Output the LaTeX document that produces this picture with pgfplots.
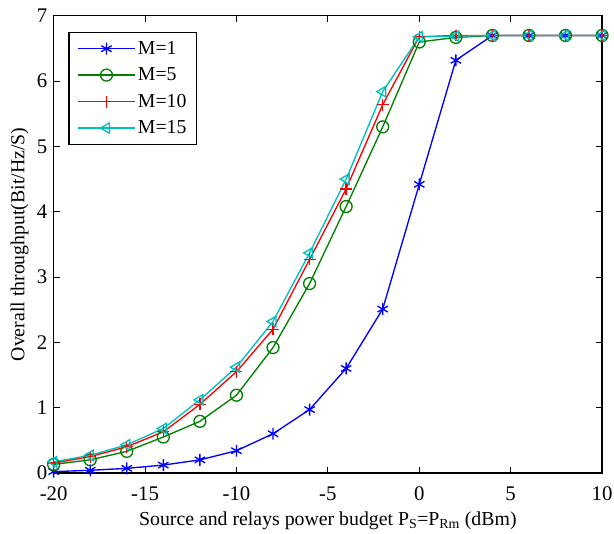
\documentclass[border=0pt]{standalone}
\usepackage{pgfplots}
\pgfplotsset{compat=1.18}
\usepackage{fontspec}
\setmainfont{Liberation Serif}
\definecolor{mgreen}{rgb}{0,0.5,0}
\definecolor{mcyan}{rgb}{0,0.75,0.75}
\begin{document}
\begin{tikzpicture}
\begin{axis}[
  scale only axis,
  width=552bp, height=460bp,
  xmin=-20, xmax=10, ymin=0, ymax=7,
  xtick={-20,-15,...,10}, ytick={0,1,...,7},
  xticklabels={-20,-15,-10,-5,0,5,10},
  tick align=inside,
  major tick length=6bp,
  axis line style={line width=1.2pt},
  every tick/.style={black, line width=0.8pt},
  /pgf/number format/assume math mode=true,
  tick label style={font=\fontsize{21}{24}\selectfont},
  yticklabel style={xshift=-3bp},
  xticklabel style={anchor=base, yshift=-28bp},
  xlabel={Source and relays power budget P$_{\mathrm{S}}$=P$_{\mathrm{Rm}}$ (dBm)},
  ylabel={Overall throughput(Bit/Hz/S)},
  every axis y label/.style={at={(axis description cs:-0.062,0.5)}, rotate=90, anchor=center, font=\fontsize{20}{24}\selectfont},
  every axis x label/.style={at={(axis description cs:0.5,-0.115)}, anchor=base, font=\fontsize{20}{24}\selectfont},
  legend style={at={(0.027,0.965)}, anchor=north west, draw=black, line width=1.2pt,
    font=\fontsize{20}{24}\selectfont, inner xsep=8bp, inner ysep=7bp, row sep=8bp,
    /tikz/every even column/.append style={column sep=3bp}},
  legend cell align=left,
  legend image code/.code={
    \draw[mark repeat=2,mark phase=2] plot coordinates {(0bp,0bp) (29bp,0bp) (58bp,0bp)};},
  every axis plot/.append style={line width=1.35pt, mark size=6bp},
]
\addplot[blue, mark=asterisk, mark options={line width=1.35pt}] coordinates {
(-20,0.02) (-18,0.04) (-16,0.07) (-14,0.12) (-12,0.2) (-10,0.34) (-8,0.6) (-6,0.97)
(-4,1.6) (-2,2.51) (0,4.42) (2,6.32) (4,6.7) (6,6.7) (8,6.7) (10,6.7)};
\addlegendentry{M=1}
\addplot[mgreen, mark=o, mark options={line width=1.35pt}] coordinates {
(-20,0.13) (-18,0.2) (-16,0.33) (-14,0.55) (-12,0.79) (-10,1.19) (-8,1.92) (-6,2.9)
(-4,4.08) (-2,5.3) (0,6.6) (2,6.67) (4,6.7) (6,6.7) (8,6.7) (10,6.7)};
\addlegendentry{M=5}
\addplot[red, mark=+, mark options={line width=1.35pt}] coordinates {
(-20,0.15) (-18,0.25) (-16,0.4) (-14,0.63) (-12,1.05) (-10,1.55) (-8,2.2) (-6,3.27)
(-4,4.35) (-2,5.64) (0,6.68) (2,6.7) (4,6.7) (6,6.7) (8,6.7) (10,6.7)};
\addlegendentry{M=10}
\addplot[mcyan, mark=triangle, mark options={line width=1.35pt, rotate=90}] coordinates {
(-20,0.17) (-18,0.27) (-16,0.43) (-14,0.68) (-12,1.12) (-10,1.62) (-8,2.32) (-6,3.37)
(-4,4.5) (-2,5.84) (0,6.68) (2,6.69) (4,6.7) (6,6.7) (8,6.7) (10,6.7)};
\addlegendentry{M=15}
\end{axis}
\pgfresetboundingbox
\path[use as bounding box] ([shift={(-54bp,-61bp)}]current axis.south west) rectangle ([shift={(12bp,16bp)}]current axis.north east);
\end{tikzpicture}
\end{document}
